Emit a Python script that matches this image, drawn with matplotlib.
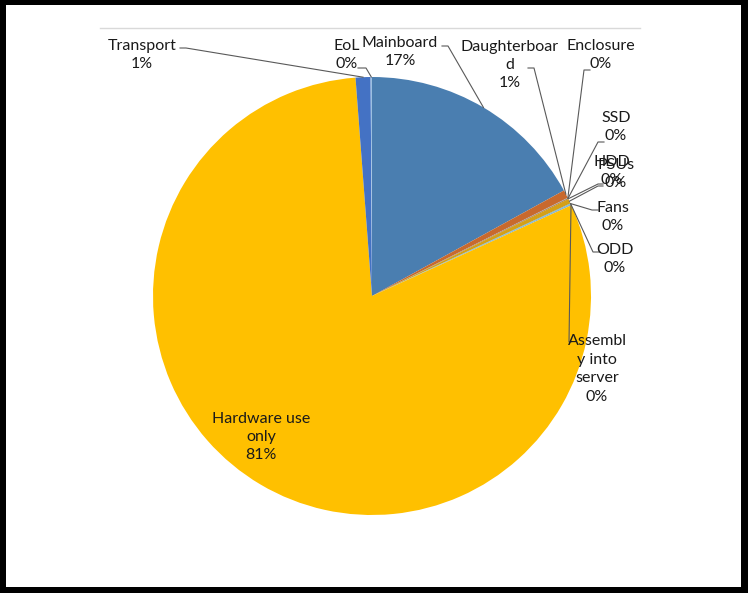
"""Pie chart: life-cycle impact share per server component (Excel-style labels)."""

import numpy as np
import matplotlib
matplotlib.use("Agg")
import matplotlib.pyplot as plt
from matplotlib.patches import Rectangle

plt.rcParams["font.family"] = ["Lato", "DejaVu Sans"]

# --- data -----------------------------------------------------------------
names = ["Mainboard", "Daughterboard", "Enclosure", "SSD", "HDD", "PSUs",
         "Fans", "ODD", "Assembly into server", "Hardware use only",
         "Transport", "EoL"]
shares = [17.0, 0.6, 0.03, 0.03, 0.04, 0.35, 0.03, 0.02, 0.1, 80.6, 1.1, 0.1]
label_text = ["Mainboard", "Daughterboar\nd", "Enclosure", "SSD", "HDD", "PSUs",
              "Fans", "ODD", "Assembl\ny into\nserver", "Hardware use\nonly",
              "Transport", "EoL"]

colors = ["#4A7EB0", "#C8692D", "#A5A5A5", "#7F7F7F", "#9E480E", "#D4A017",
          "#5B9BD5", "#70AD47", "#7FB2D9", "#FFC000", "#4472C4", "#9DBFE0"]

# --- layout (pixel coords, y down) ----------------------------------------
W, H = 748, 593
CX, CY, R = 372, 296, 219

# label block centre, text anchor of leader, elbow point
label_pos = {
    "Mainboard":            ((400, 52),  (442, 46),  (448, 46)),
    "Daughterboard":        ((510, 65),  (528, 68),  (534, 68)),
    "Enclosure":            ((601, 55),  (590, 70),  (584, 70)),
    "SSD":                  ((616, 127), (604, 142), (598, 142)),
    "HDD":                  ((612, 171), (603, 184), (598, 184)),
    "PSUs":                 ((616, 174), (603, 186), (598, 186)),
    "Fans":                 ((613, 217), (598, 210), (592, 210)),
    "ODD":                  ((615, 259), (600, 252), (593, 252)),
    "Assembly into server": ((597, 369), (571, 342), (569, 342)),
    "Hardware use only":    ((261, 437), None, None),
    "Transport":            ((142, 55),  (180, 48),  (186, 48)),
    "EoL":                  ((347, 55),  (358, 68),  (366, 68)),
}

fig = plt.figure(figsize=(W / 100, H / 100), dpi=100)
fig.patch.set_facecolor("black")
ax = fig.add_axes([0, 0, 1, 1])

ax.pie(shares, colors=colors, center=(CX, CY), radius=R,
       startangle=-90, counterclock=True,
       wedgeprops=dict(linewidth=0))
ax.set_xlim(0, W)
ax.set_ylim(H, 0)
ax.set_aspect("equal")
ax.axis("off")

# white chart area inside the black frame, with a faint top border
ax.add_patch(Rectangle((6, 5), 735, 582, facecolor="white",
                       edgecolor="none", zorder=-10))
ax.plot([100, 640], [28, 28], color="#D9D9D9", lw=1.0, zorder=1)

total = sum(shares)
cum = np.cumsum([0] + shares[:-1])
for name, txt, v, c0 in zip(names, label_text, shares, cum):
    (tx, ty), anchor, elbow = label_pos[name]
    pct = f"{round(v / total * 100)}%"
    ax.text(tx, ty, f"{txt}\n{pct}", ha="center", va="center",
            fontsize=11.5, color="#1a1a1a", linespacing=1.4, zorder=5)
    if anchor is None:
        continue
    a = np.deg2rad(360 * (c0 + v / 2) / total)
    ex, ey = CX + R * np.sin(a), CY - R * np.cos(a)
    ax.plot([anchor[0], elbow[0], ex], [anchor[1], elbow[1], ey],
            color="#595959", lw=0.8, zorder=4)

fig.savefig("out.png", dpi=100, facecolor=fig.get_facecolor())
